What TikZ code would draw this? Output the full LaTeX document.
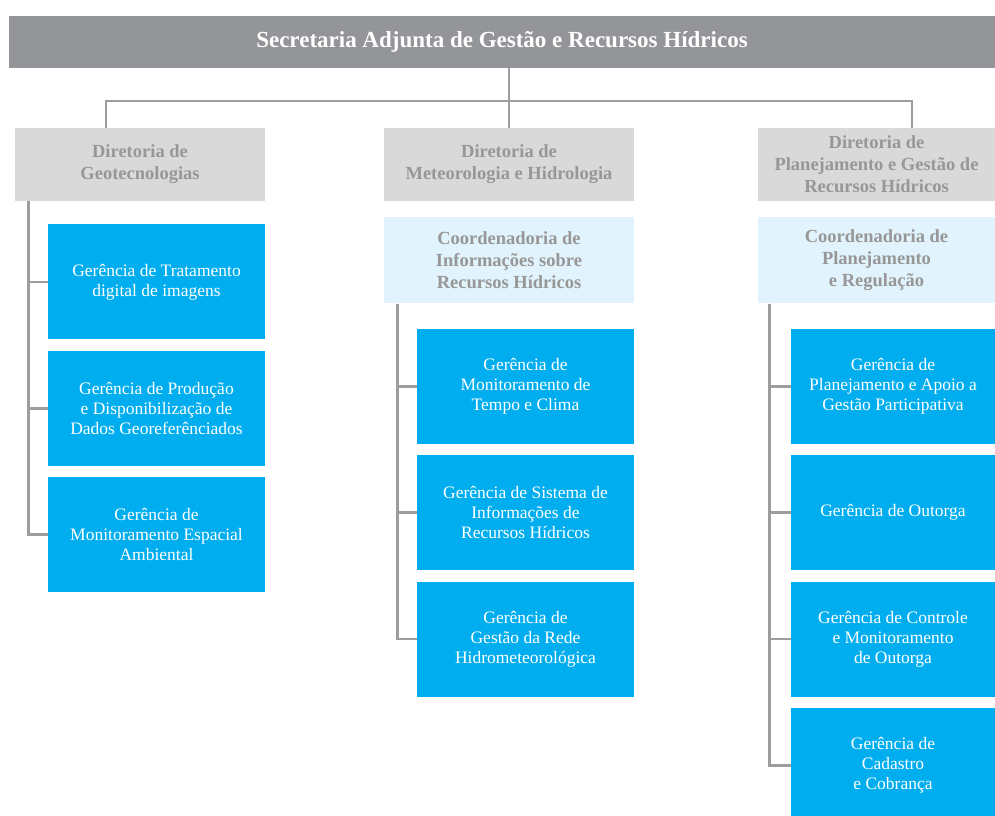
\documentclass[tikz,border=0pt]{standalone}
\usepackage{fontspec}
\setmainfont{Liberation Serif}
\usetikzlibrary{positioning}

\definecolor{barGray}{HTML}{939598}
\definecolor{dirGray}{HTML}{D9D9D9}
\definecolor{dirText}{HTML}{979797}
\definecolor{coordBlue}{HTML}{E1F3FC}
\definecolor{gerBlue}{HTML}{00AEEF}
\definecolor{lineGray}{HTML}{9D9D9D}

\begin{document}
\begin{tikzpicture}[x=1pt,y=-1pt,node distance=11pt,
		link/.style={draw=lineGray,line width=2.7pt},
		top node/.style={fill=barGray,text=white,inner sep=0pt,minimum width=986pt,minimum height=52pt,font=\fontsize{23}{26}\selectfont\bfseries},
		dir node/.style={fill=dirGray,text=dirText,align=center,inner sep=0pt,minimum width=250pt,minimum height=73pt,font=\fontsize{18.5}{22}\selectfont\bfseries},
		coord node/.style={fill=coordBlue,text=dirText,align=center,inner sep=0pt,minimum width=250pt,minimum height=86pt,font=\fontsize{18.5}{22}\selectfont\bfseries},
		ger node/.style={fill=gerBlue,text=white,align=center,inner sep=0pt,minimum width=217pt,minimum height=115pt,font=\fontsize{17.5}{19.8}\selectfont}]

	\useasboundingbox (0,0) rectangle (995,815);

	\node[top node] (SA) at (502,42) {Secretaria Adjunta de Gestão e Recursos Hídricos};

	\node[dir node] (D1) at (140,164.5) {Diretoria de\\Geotecnologias};
	\node[dir node] (D2) at (509,164.5) {Diretoria de\\Meteorologia e Hidrologia};
	\node[dir node,minimum width=237pt] (D3) at (876.5,164.5) {Diretoria de\\Planejamento e Gestão de\\Recursos Hídricos};

	\node[ger node] (G11) [below left=23pt and 0pt of D1.south east] {Gerência de Tratamento\\digital de imagens};
	\node[ger node] (G12) [below=of G11] {Gerência de Produção\\e Disponibilização de\\Dados Georeferênciados};
	\node[ger node] (G13) [below=of G12] {Gerência de\\Monitoramento Espacial\\Ambiental};

	\node[coord node] (C2) [below=16pt of D2] {Coordenadoria de\\Informações sobre\\Recursos Hídricos};
	\node[ger node] (G21) [below left=25pt and 0pt of C2.south east] {Gerência de\\Monitoramento de\\Tempo e Clima};
	\node[ger node] (G22) [below=of G21] {Gerência de Sistema de\\Informações de\\Recursos Hídricos};
	\node[ger node] (G23) [below=of G22] {Gerência de\\Gestão da Rede\\Hidrometeorológica};

	\node[coord node,minimum width=237pt] (C3) [below=16pt of D3] {Coordenadoria de\\Planejamento\\e Regulação};
	\node[ger node,minimum width=204pt] (G31) [below left=25pt and 0pt of C3.south east] {Gerência de\\Planejamento e Apoio a\\Gestão Participativa};
	\node[ger node,minimum width=204pt] (G32) [below=of G31] {Gerência de Outorga};
	\node[ger node,minimum width=204pt] (G33) [below=of G32] {Gerência de Controle\\e Monitoramento\\de Outorga};
	\node[ger node,minimum width=204pt] (G34) [below=of G33] {Gerência de\\Cadastro\\e Cobrança};

	\coordinate (busL) at (106,101);
	\coordinate (busR) at (912,101);
	\draw[link] (SA.south -| D2.north) -- (D2.north);
	\draw[link] (busL |- D1.north) -- (busL) -- (busR) -- (busR |- D3.north);

	\foreach \g in {G11,G12,G13}
		\draw[link] ([xshift=14pt]D1.south west) |- (\g.west);
	\foreach \g in {G21,G22,G23}
		\draw[link] ([xshift=14pt]C2.south west) |- (\g.west);
	\foreach \g in {G31,G32,G33,G34}
		\draw[link] ([xshift=12pt]C3.south west) |- (\g.west);

\end{tikzpicture}
\end{document}
